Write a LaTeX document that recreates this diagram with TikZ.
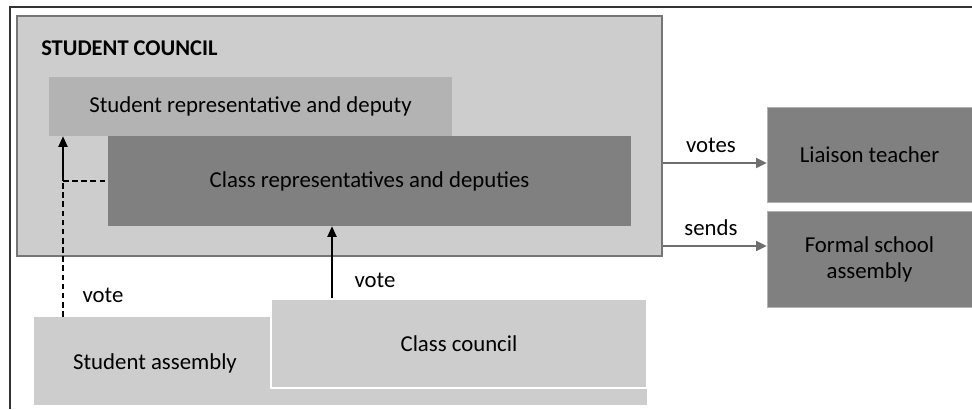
\documentclass[tikz,border=0pt]{standalone}
\usepackage{fontspec}
\setmainfont{Carlito}
\usetikzlibrary{positioning, arrows.meta, calc}
\definecolor{councilgray}{HTML}{CDCDCD}
\definecolor{repgray}{HTML}{B3B3B3}
\definecolor{darkgray}{HTML}{808080}
\definecolor{edgegray}{HTML}{767676}
\definecolor{arrowgray}{HTML}{6E6E6E}
\tikzset{
  % Boxes
  councilbox/.style={
    draw=edgegray, line width=1.3pt, fill=councilgray,
    rectangle, inner sep=0pt
  },
  repbox/.style={
    fill=repgray, rectangle, inner sep=0pt, font=\fontsize{16.2}{19}\selectfont
  },
  classbox/.style={
    fill=darkgray, rectangle, inner sep=0pt, font=\fontsize{16.2}{19}\selectfont
  },
  basebox/.style={
    fill=councilgray, rectangle, inner sep=0pt, font=\fontsize{16.2}{19}\selectfont
  },
  outbox/.style={
    draw=repgray, line width=0.4pt, fill=darkgray, rectangle, inner sep=0pt,
    align=center, font=\fontsize{16.2}{18.5}\selectfont
  },
  boxtext/.style={inner sep=0pt, font=\fontsize{16.2}{19}\selectfont},
  % Arrows
  votearrow/.style={
    -{Triangle[length=7.5pt, width=6.5pt]}, line width=1.1pt, black
  },
  voteline/.style={
    dashed, dash pattern=on 4pt off 2.5pt, line width=1.1pt, black
  },
  sendarrow/.style={
    -{Triangle[length=7.5pt, width=7pt]}, line width=1.3pt, arrowgray
  },
}

\begin{document}
\begin{tikzpicture}[x=0.025cm, y=-0.025cm]

  \useasboundingbox (0,0) rectangle (972,409);

  %% ── Frame ──
  \draw[line width=0.8pt, black!80] (972,7) -- (10,7) -- (10,409);

  %% ── Student council ──
  \node[councilbox, minimum width=16.125cm, minimum height=6cm] (council) at (339.5,136) {};
  \node[anchor=base west, inner sep=0pt, font=\fontsize{16}{18}\selectfont\bfseries] (title) at (41,55) {STUDENT COUNCIL};
  \node[repbox, minimum width=10.075cm, minimum height=1.475cm] (studentRep) at (250.5,106.5) {Student representative and deputy};
  \node[classbox, minimum width=13.075cm, minimum height=2.25cm] (classReps) at (369.5,181) {Class representatives and deputies};

  %% ── Assemblies ──
  \node[basebox, minimum width=15.325cm, minimum height=2.2cm] (assembly) at (340.5,361) {};
  \node[boxtext] (assemblyLbl) at (155,363) {Student assembly};
  \node[basebox, draw=white, line width=1pt, minimum width=9.4cm, minimum height=2.225cm] (classCouncil) at (459,343.5) {Class council};

  %% ── Outside ──
  \node[outbox, minimum width=5.125cm, minimum height=2.375cm] (liaison) at (869.5,154.5) {Liaison teacher};
  \node[outbox, minimum width=5.125cm, minimum height=2.4cm] (formal) at (869.5,259) {Formal school\\assembly};

  %% ── Votes ──
  \coordinate (joint) at (63,181);
  \draw[voteline] (assembly.north -| joint) -- (joint);
  \draw[voteline] (joint) -- (classReps.west |- joint);
  \draw[votearrow] (joint) -- (studentRep.south -| joint);
  \node[boxtext] (voteA) at (103,295) {vote};
  \draw[votearrow] (classCouncil.north -| 332,0) -- (classReps.south -| 332,0);
  \node[boxtext] (voteB) at (375,280) {vote};

  %% ── Council outputs ──
  \draw[sendarrow] (council.east |- 0,163) -- (liaison.west |- 0,163);
  \node[boxtext] (votesLbl) at (711,145) {votes};
  \draw[sendarrow] (council.east |- 0,246) -- (formal.west |- 0,246);
  \node[boxtext] (sendsLbl) at (711,228) {sends};

\end{tikzpicture}
\end{document}
